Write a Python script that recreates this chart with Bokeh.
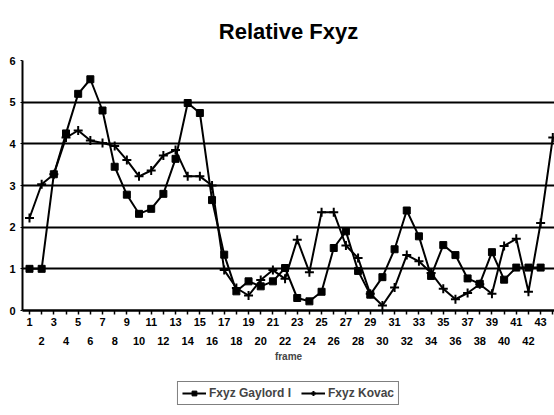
from bokeh.plotting import figure
from bokeh.layouts import column
from bokeh.models import (ColumnDataSource, FixedTicker, LinearAxis, Legend,
                          LegendItem, Range1d)
from bokeh.embed import file_html
from bokeh.resources import INLINE

# ---- data ----
frames_gaylord = list(range(1, 44))
gaylord = [1.0, 1.0, 3.27, 4.25, 5.2, 5.55, 4.8, 3.45, 2.78, 2.32,
           2.44, 2.8, 3.64, 4.98, 4.74, 2.65, 1.34, 0.46, 0.7, 0.58,
           0.7, 1.02, 0.3, 0.22, 0.45, 1.5, 1.9, 0.95, 0.38, 0.8,
           1.47, 2.4, 1.78, 0.83, 1.57, 1.33, 0.77, 0.64, 1.4, 0.74,
           1.03, 1.03, 1.03]

frames_kovac = list(range(1, 45))
kovac = [2.22, 3.03, 3.27, 4.15, 4.32, 4.08, 4.02, 3.95, 3.61, 3.22,
         3.36, 3.72, 3.85, 3.22, 3.22, 3.0, 0.97, 0.54, 0.36, 0.73,
         0.97, 0.76, 1.7, 0.92, 2.36, 2.36, 1.56, 1.26, 0.4, 0.12,
         0.55, 1.33, 1.18, 0.9, 0.52, 0.27, 0.42, 0.63, 0.4, 1.55,
         1.72, 0.45, 2.1, 4.15]

x_ticks = list(range(1, 45))
x_odd_labels = {t: (str(t) if (t % 2 == 1 and t <= 43) else "") for t in x_ticks}
x_even_ticks = list(range(2, 43, 2))
y_ticks = [0, 1, 2, 3, 4, 5, 6]
grid_levels = [1, 2, 3, 4, 5, 6]

title_text = "Relative Fxyz"
x_label = "frame"
series_names = ["Fxyz Gaylord I", "Fxyz Kovac"]

FONT = "Liberation Sans"

p = figure(width=554, height=370,
           x_range=Range1d(0.425, 44.14), y_range=Range1d(0, 6),
           output_backend="svg", toolbar_location=None,
           min_border_left=22, min_border_right=0, min_border_top=55,
           min_border_bottom=60, title=title_text)
p.xaxis.visible = False
p.outline_line_color = None
p.background_fill_color = "white"
p.border_fill_color = "white"

p.title.text_font = FONT
p.title.text_font_size = "22px"
p.title.text_font_style = "bold"
p.title.align = "center"
p.title.text_color = "black"
p.title.standoff = 33

# y axis
p.yaxis.ticker = FixedTicker(ticks=y_ticks)
p.yaxis.major_label_text_font = FONT
p.yaxis.major_label_text_font_style = "bold"
p.yaxis.major_label_text_font_size = "11px"
p.yaxis.major_label_text_color = "black"
p.yaxis.major_label_standoff = 5
p.yaxis.major_tick_out = 2
p.yaxis.major_tick_in = 0
p.yaxis.minor_tick_line_color = None
p.yaxis.axis_line_width = 2
p.yaxis.axis_line_color = "black"
p.yaxis.major_tick_line_color = "black"

# grid
p.xgrid.visible = False
p.ygrid.ticker = FixedTicker(ticks=grid_levels)
p.ygrid.grid_line_color = "black"
p.ygrid.grid_line_width = 2

# x axis: odd labels row
ax1 = LinearAxis(ticker=FixedTicker(ticks=x_ticks),
                 major_label_overrides=x_odd_labels)
ax1.major_label_text_font = FONT
ax1.major_label_text_font_style = "bold"
ax1.major_label_text_font_size = "11px"
ax1.major_label_text_color = "black"
ax1.major_label_standoff = 3
ax1.major_tick_out = 4
ax1.major_tick_in = 0
ax1.major_tick_line_width = 1.5
ax1.minor_tick_line_color = None
ax1.axis_line_width = 2.5
p.add_layout(ax1, "below")

# x axis: even labels row
ax2 = LinearAxis(ticker=FixedTicker(ticks=x_even_ticks), axis_label=x_label)
ax2.axis_line_color = None
ax2.major_tick_line_color = None
ax2.minor_tick_line_color = None
ax2.major_label_text_font = FONT
ax2.major_label_text_font_style = "bold"
ax2.major_label_text_font_size = "11px"
ax2.major_label_text_color = "black"
ax2.major_label_standoff = 2
ax2.axis_label_text_font = FONT
ax2.axis_label_text_font_style = "bold"
ax2.axis_label_text_font_size = "10px"
ax2.axis_label_standoff = 3
p.add_layout(ax2, "below")

src_g = ColumnDataSource(dict(x=frames_gaylord, y=gaylord))
src_k = ColumnDataSource(dict(x=frames_kovac, y=kovac))


def draw_series(fig):
    g1 = fig.line("x", "y", source=src_g, line_color="black", line_width=2)
    g2 = fig.scatter("x", "y", source=src_g, marker="square", size=7,
                     fill_color="black", line_color="black")
    k1 = fig.line("x", "y", source=src_k, line_color="black", line_width=2)
    k2 = fig.scatter("x", "y", source=src_k, marker="cross", size=9,
                     line_color="black", line_width=2)
    return g1, g2, k1, k2


draw_series(p)

# legend strip below the chart: same series, ranges set so only the keys show
p2 = figure(width=554, height=45, x_range=Range1d(1000, 1001),
            y_range=Range1d(1000, 1001),
            x_axis_location=None, y_axis_location=None,
            output_backend="svg", toolbar_location=None,
            min_border_left=0, min_border_right=0, min_border_top=0,
            min_border_bottom=0)
p2.grid.visible = False
p2.outline_line_color = None
p2.border_fill_color = "white"
kg1, kg2, kk1, kk2 = draw_series(p2)

legend = Legend(items=[LegendItem(label=series_names[0], renderers=[kg1, kg2]),
                       LegendItem(label=series_names[1], renderers=[kk1, kk2])],
                orientation="horizontal", location="center")
legend.label_text_font = FONT
legend.label_text_font_style = "bold"
legend.label_text_font_size = "12px"
legend.label_height = 12
legend.glyph_height = 12
legend.glyph_width = 24
legend.label_standoff = 3
legend.spacing = 10
legend.padding = 4
legend.margin = 0
legend.border_line_color = "black"
legend.border_line_width = 1.5
p2.add_layout(legend, "center")

layout = column(p, p2, spacing=0)
open("out.html", "w").write(file_html(layout, INLINE))
